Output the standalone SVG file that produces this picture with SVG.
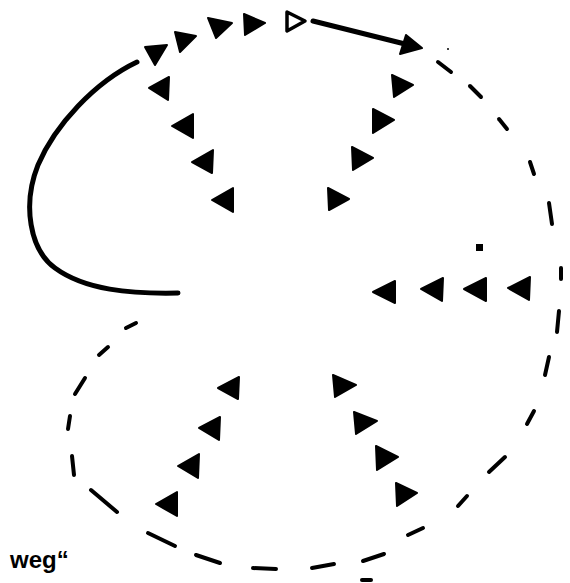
<svg xmlns="http://www.w3.org/2000/svg" width="570" height="583" viewBox="0 0 570 583">
<style>
.tri{fill:#000;stroke:#000;stroke-width:2;stroke-linejoin:round}
.hollow{fill:#fff;stroke:#000;stroke-width:3.5;stroke-linejoin:round}
.dash{fill:none;stroke:#000;stroke-width:4;stroke-linecap:round}
.solid{fill:none;stroke:#000;stroke-width:5;stroke-linecap:round}
.lbl{font-family:"Liberation Sans",Arial,sans-serif;font-weight:bold;font-size:24px;fill:#000}
</style>
<rect width="570" height="583" fill="#fff"/>
<g id="connectors">
  <path class="solid" d="M137,62 C95,82 55,125 38,165 C22,205 30,250 55,268 C85,290 130,294 178,293"/>
  <line class="solid" x1="313" y1="21" x2="405" y2="44"/>
  <polygon class="tri" points="422,48 400,54 406,35"/>
  <g id="dashed-loop">
    <line class="dash" x1="126" y1="328" x2="136" y2="323"/>
    <line class="dash" x1="99" y1="355" x2="108" y2="347"/>
    <line class="dash" x1="75" y1="394" x2="85" y2="378"/>
    <line class="dash" x1="68" y1="429" x2="70" y2="416"/>
    <line class="dash" x1="72" y1="456" x2="74" y2="475"/>
    <line class="dash" x1="91" y1="490" x2="117" y2="512"/>
    <line class="dash" x1="148" y1="533" x2="175" y2="546"/>
    <line class="dash" x1="196" y1="555" x2="220" y2="563"/>
    <line class="dash" x1="253" y1="568" x2="276" y2="569"/>
    <line class="dash" x1="312" y1="568" x2="334" y2="564"/>
    <line class="dash" x1="363" y1="561" x2="384" y2="554"/>
    <line class="dash" x1="408" y1="535" x2="423" y2="528"/>
    <line class="dash" x1="458" y1="506" x2="467" y2="496"/>
    <line class="dash" x1="489" y1="472" x2="505" y2="457"/>
    <line class="dash" x1="527" y1="424" x2="534" y2="411"/>
    <line class="dash" x1="545" y1="375" x2="549" y2="357"/>
    <line class="dash" x1="557" y1="332" x2="559" y2="311"/>
    <line class="dash" x1="561" y1="279" x2="561" y2="268"/>
    <line class="dash" x1="552" y1="224" x2="549" y2="203"/>
    <line class="dash" x1="534" y1="174" x2="530" y2="162"/>
    <line class="dash" x1="507" y1="129" x2="499" y2="119"/>
    <line class="dash" x1="481" y1="97" x2="470" y2="86"/>
    <line class="dash" x1="451" y1="72" x2="438" y2="62"/>
    <circle cx="448" cy="49" r="1"/>
    <line class="dash" x1="362" y1="580" x2="371" y2="580"/>
  </g>
</g>
<g id="arc-top">
  <polygon class="tri" points="145,47 167,45 155,65"/>
  <polygon class="tri" points="175,32 196,36 180,52"/>
  <polygon class="tri" points="208,18 232,23 216,38"/>
  <polygon class="tri" points="244,14 265,23 245,35"/>
  <polygon class="hollow" points="287,12 305,21 287,31"/>
</g>
<g id="left-upper">
  <polygon class="tri" points="149,88 169,77 168,100"/>
  <polygon class="tri" points="172,126 193,114 193,138"/>
  <polygon class="tri" points="192,162 213,150 212,173"/>
  <polygon class="tri" points="212,200 233,188 233,212"/>
</g>
<g id="right-upper">
  <polygon class="tri" points="392,75 413,85 394,97"/>
  <polygon class="tri" points="373,109 394,120 373,133"/>
  <polygon class="tri" points="352,147 373,158 353,170"/>
  <polygon class="tri" points="328,188 349,199 329,210"/>
</g>
<g id="middle-row">
  <rect x="476" y="244" width="7" height="7"/>
  <polygon class="tri" points="373,292 395,281 395,303"/>
  <polygon class="tri" points="421,289 443,278 442,301"/>
  <polygon class="tri" points="464,289 486,278 486,301"/>
  <polygon class="tri" points="508,288 530,277 529,300"/>
</g>
<g id="left-lower">
  <polygon class="tri" points="218,388 239,377 238,399"/>
  <polygon class="tri" points="199,428 220,417 219,440"/>
  <polygon class="tri" points="178,466 199,454 198,478"/>
  <polygon class="tri" points="156,504 177,492 177,516"/>
</g>
<g id="right-lower">
  <polygon class="tri" points="333,375 356,385 335,397"/>
  <polygon class="tri" points="354,412 377,421 356,434"/>
  <polygon class="tri" points="376,446 398,457 377,470"/>
  <polygon class="tri" points="396,483 417,493 397,506"/>
</g>
<g id="label">
  <text class="lbl" x="10" y="568">weg“</text>
</g>
</svg>
